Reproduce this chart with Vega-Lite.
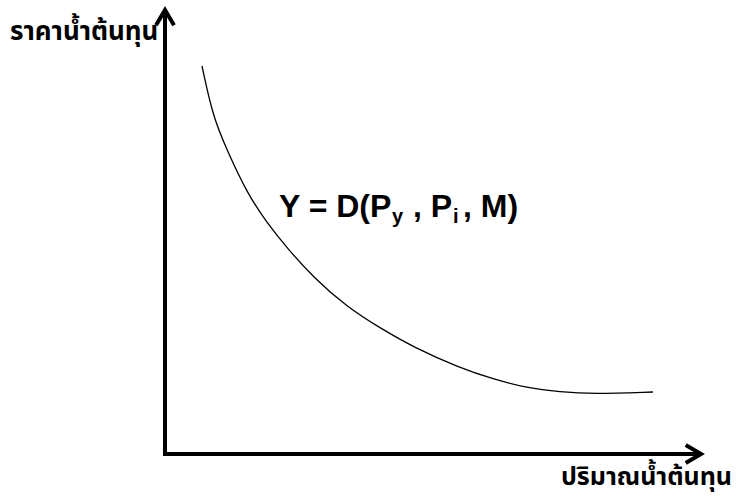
{
  "$schema": "https://vega.github.io/schema/vega-lite/v6.json",
  "width": 736,
  "height": 497,
  "autosize": {"type": "none"},
  "padding": 0,
  "background": "white",
  "config": {"view": {"stroke": null}},
  "datasets": {
    "curve": [
      {"q": 36, "p": 389}, {"q": 47, "p": 338}, {"q": 61, "p": 305}, {"q": 81, "p": 262},
      {"q": 101, "p": 232}, {"q": 121, "p": 207}, {"q": 147, "p": 178}, {"q": 181, "p": 148},
      {"q": 214, "p": 127}, {"q": 247, "p": 108}, {"q": 294, "p": 87}, {"q": 327, "p": 76},
      {"q": 361, "p": 67}, {"q": 394, "p": 63}, {"q": 427, "p": 61}, {"q": 487, "p": 63}
    ],
    "axes": [
      {"q": -1, "p": -1, "q2": -1, "p2": 443},
      {"q": -3, "p": 1, "q2": 533, "p2": 1}
    ],
    "arrows": [
      {"q": -1, "p": 445, "dir": "up"},
      {"q": 535, "p": 1, "dir": "right"}
    ],
    "eq": [
      {"q": 113, "p": 238, "t": "Y = D(P", "sub": "main"},
      {"q": 226, "p": 232, "t": "y", "sub": "sub"},
      {"q": 247, "p": 238, "t": ", P", "sub": "main"},
      {"q": 287, "p": 232, "t": "i", "sub": "sub"},
      {"q": 297, "p": 238, "t": ", M)", "sub": "main"}
    ],
    "ylab": [{"q": -156, "p": 415, "t": "ราคาน้ำต้นทุน"}],
    "xlab": [{"q": 566, "p": -30, "t": "ปริมาณน้ำต้นทุน"}]
  },
  "layer": [
    {
      "data": {"name": "axes"},
      "mark": {"type": "rule", "strokeWidth": 4, "color": "black", "strokeCap": "butt"},
      "encoding": {
        "x": {"field": "q", "type": "quantitative", "scale": {"domain": [-166, 570], "nice": false, "zero": false}, "axis": null},
        "y": {"field": "p", "type": "quantitative", "scale": {"domain": [-42, 455], "nice": false, "zero": false}, "axis": null},
        "x2": {"field": "q2"},
        "y2": {"field": "p2"}
      }
    },
    {
      "data": {"name": "arrows"},
      "mark": {"type": "point", "filled": false, "strokeWidth": 4, "opacity": 1, "color": "black", "size": 324, "strokeJoin": "miter"},
      "encoding": {
        "x": {"field": "q", "type": "quantitative"},
        "y": {"field": "p", "type": "quantitative"},
        "shape": {"field": "dir", "type": "nominal", "legend": null,
          "scale": {"domain": ["up", "right"], "range": ["M-1,1.7L0,0L1,1.7", "M-1.7,-1L0,0L-1.7,1"]}}
      }
    },
    {
      "data": {"name": "curve"},
      "mark": {"type": "line", "color": "black", "strokeWidth": 1.3, "interpolate": "basis"},
      "encoding": {
        "x": {"field": "q", "type": "quantitative"},
        "y": {"field": "p", "type": "quantitative"}
      }
    },
    {
      "data": {"name": "eq"},
      "mark": {"type": "text", "align": "left", "baseline": "alphabetic", "font": "Liberation Sans", "fontWeight": "bold", "color": "black"},
      "encoding": {
        "x": {"field": "q", "type": "quantitative"},
        "y": {"field": "p", "type": "quantitative"},
        "text": {"field": "t"},
        "size": {"field": "sub", "type": "nominal", "legend": null,
          "scale": {"domain": ["main", "sub"], "range": [32, 20]}}
      }
    },
    {
      "data": {"name": "ylab"},
      "mark": {"type": "text", "align": "left", "baseline": "alphabetic", "fontWeight": "bold", "fontSize": 26, "color": "black", "font": "Tahoma, Noto Sans Thai, sans-serif"},
      "encoding": {
        "x": {"field": "q", "type": "quantitative"},
        "y": {"field": "p", "type": "quantitative"},
        "text": {"field": "t"}
      }
    },
    {
      "data": {"name": "xlab"},
      "mark": {"type": "text", "align": "right", "baseline": "alphabetic", "fontWeight": "bold", "fontSize": 25, "color": "black", "font": "Tahoma, Noto Sans Thai, sans-serif"},
      "encoding": {
        "x": {"field": "q", "type": "quantitative"},
        "y": {"field": "p", "type": "quantitative"},
        "text": {"field": "t"}
      }
    }
  ]
}
